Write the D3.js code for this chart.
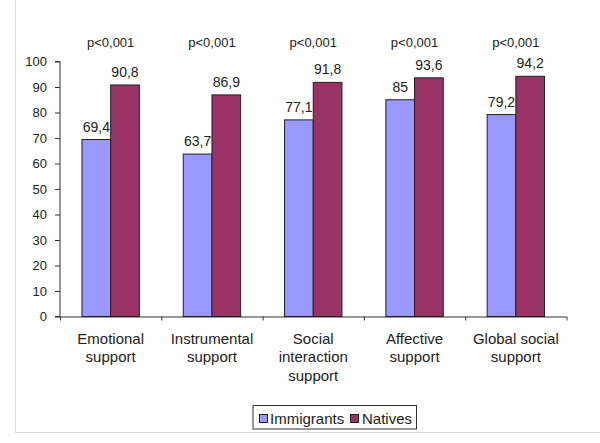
<!DOCTYPE html>
<html><head><meta charset="utf-8">
<script src="https://cdn.jsdelivr.net/npm/d3@7"></script>
<style>body{margin:0;background:#fff}svg{display:block;font-family:"Liberation Sans",Arial,sans-serif}</style>
</head><body><svg id="c" width="600" height="443"></svg>
<script>
const categories = [["Emotional","support"],["Instrumental","support"],["Social","interaction","support"],["Affective","support"],["Global social","support"]];
const immigrants = [69.4, 63.7, 77.1, 85, 79.2];
const natives = [90.8, 86.9, 91.8, 93.6, 94.2];
const immLabels = ["69,4","63,7","77,1","85","79,2"];
const natLabels = ["90,8","86,9","91,8","93,6","94,2"];
const pLabels = ["p<0,001","p<0,001","p<0,001","p<0,001","p<0,001"];
const yTicks = [0,10,20,30,40,50,60,70,80,90,100];
const seriesNames = ["Immigrants","Natives"];
const colors = ["#9999FF","#993366"];

const FONT = "Liberation Sans, Arial, sans-serif";
const svg = d3.select("#c");
// outer frame
svg.append("line").attr("x1",15.5).attr("x2",15.5).attr("y1",0).attr("y2",432).attr("stroke","#d9d9d9");
svg.append("line").attr("x1",15).attr("x2",600).attr("y1",432.5).attr("y2",432.5).attr("stroke","#d9d9d9");

const x0 = d3.scaleBand().domain(d3.range(categories.length)).range([60,566.5]).paddingInner(0).paddingOuter(0);
const x1 = d3.scaleBand().domain([0,1]).range([0,57.4]);
const y = d3.scaleLinear().domain([0,100]).range([316.5,61.5]);

const g = svg.append("g");
// y axis
const ya = g.append("g").attr("transform","translate(60,0)").call(d3.axisLeft(y).tickValues(yTicks).tickSize(5).tickPadding(8));
ya.attr("font-size",null).attr("font-family",null);
ya.select(".domain").attr("stroke","#333").attr("d","M-5,"+y(0)+"H0V"+y(100)+"H-5");
ya.selectAll(".tick line").attr("stroke","#333");
ya.selectAll(".tick text").style("font-size","13px").style("font-family",FONT).attr("fill","#222");

// x axis
const xa = g.append("g").attr("transform","translate(0,"+y(0)+")");
xa.append("line").attr("x1",60).attr("x2",566.5).attr("y1",0.5).attr("y2",0.5).attr("stroke","#333");
const bounds = d3.range(categories.length+1).map(i => i<categories.length ? x0(i) : x0(i-1)+x0.bandwidth());
xa.selectAll("line.t").data(bounds).join("line").attr("class","t")
  .attr("x1",d=>d+0.5).attr("x2",d=>d+0.5).attr("y1",0).attr("y2",4).attr("stroke","#333");

const groups = g.selectAll("g.cat").data(categories).join("g").attr("class","cat")
  .attr("transform",(d,i)=>"translate("+(x0(i)+(x0.bandwidth()-57.4)/2)+",0)");

groups.each(function(d,i){
  const gg = d3.select(this);
  const vals = [immigrants[i], natives[i]];
  const labs = [immLabels[i], natLabels[i]];
  vals.forEach((v,k)=>{
    gg.append("rect").attr("x",x1(k)).attr("y",y(v)).attr("width",x1.bandwidth()).attr("height",y(0)-y(v))
      .attr("fill",colors[k]).attr("stroke","#222").attr("stroke-width",1);
    gg.append("text").attr("x",x1(k)+x1.bandwidth()/2).attr("y",y(v)-8).attr("text-anchor","middle")
      .style("font-size","14px").attr("fill","#222").text(labs[k]);
  });
  gg.append("text").attr("x",28.7).attr("y",46.5).attr("text-anchor","middle").style("font-size","13px").attr("fill","#222").text(pLabels[i]);
  d.forEach((line,j)=>{
    gg.append("text").attr("x",28.7).attr("y",343.5+j*18.7).attr("text-anchor","middle").style("font-size","15px").attr("fill","#222").text(line);
  });
});

// legend
const lg = svg.append("g");
lg.append("rect").attr("x",253).attr("y",405.5).attr("width",163.5).attr("height",23.5).attr("fill","#fff").attr("stroke","#333");
const items = [{x:259.5,tx:270},{x:350.5,tx:362}];
seriesNames.forEach((n,k)=>{
  lg.append("rect").attr("x",items[k].x).attr("y",414.5).attr("width",8).attr("height",8).attr("fill",colors[k]).attr("stroke","#222");
  lg.append("text").attr("x",items[k].tx).attr("y",423.5).style("font-size","15px").attr("fill","#222").text(n);
});
</script></body></html>
